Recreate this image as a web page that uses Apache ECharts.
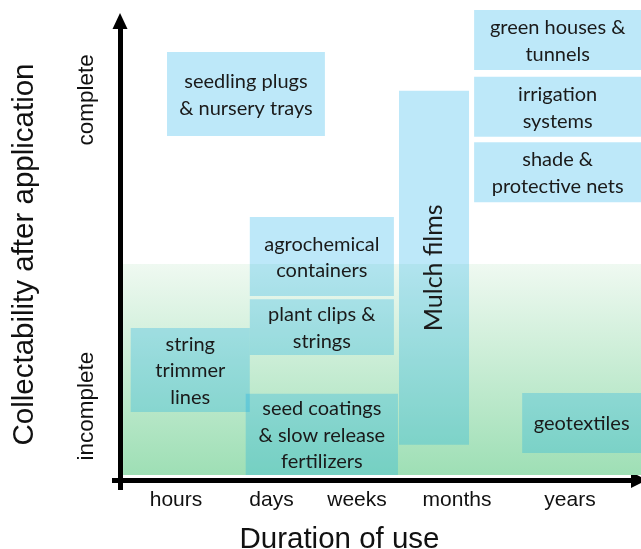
<!DOCTYPE html>
<html>
<head>
<meta charset="utf-8">
<script src="https://cdn.jsdelivr.net/npm/echarts@6/dist/echarts.min.js"></script>
<style>
html,body{margin:0;padding:0;background:#fff;}
#chart{width:641px;height:549px;}
</style>
</head>
<body>
<div id="chart"></div>
<script>
// ---- data ----
const boxLabels = [
  'seedling plugs\n& nursery trays',
  'agrochemical\ncontainers',
  'plant clips &\nstrings',
  'string\ntrimmer\nlines',
  'seed coatings\n& slow release\nfertilizers',
  'Mulch films',
  'green houses &\ntunnels',
  'irrigation\nsystems',
  'shade &\nprotective nets',
  'geotextiles'
];
const boxDurationStart = [9.2, 25.4, 25.4, 2.1, 24.6, 54.6, 69.3, 69.3, 69.3, 78.7];
const boxDurationEnd   = [40.1, 53.6, 53.6, 25.4, 54.4, 68.3, 102, 102, 102, 102];
const boxCollectLow    = [76.3, 40.8, 27.7, 15.1, 1.1, 7.8, 90.9, 76.1, 61.6, 6.0];
const boxCollectHigh   = [94.9, 58.3, 40.1, 33.7, 19.1, 86.3, 104.2, 89.4, 74.9, 19.3];

const incompleteZone = [0.6, 102, 1.1, 47.9]; // durationStart, durationEnd, collectLow, collectHigh

const xTickLabels = ['hours', 'days', 'weeks', 'months', 'years'];
const xTickValues = [10.96, 29.65, 46.38, 65.95, 88.06];
const yTickLabels = ['incomplete', 'complete'];
const yTickValues = [16.4, 84.3];

const xAxisTitle = 'Duration of use';
const yAxisTitle = 'Collectability after application';
const verticalLabels = ['Mulch films'];

// ---- chart ----
const chart = echarts.init(document.getElementById('chart'), null, {renderer: 'canvas'});

const boxData = boxLabels.map((name, i) => [boxDurationStart[i], boxDurationEnd[i], boxCollectLow[i], boxCollectHigh[i], name]);

function renderZone(params, api) {
  const p0 = api.coord([api.value(0), api.value(3)]);
  const p1 = api.coord([api.value(1), api.value(2)]);
  return {
    type: 'rect',
    shape: {x: p0[0], y: p0[1], width: p1[0] - p0[0], height: p1[1] - p0[1]},
    style: {
      fill: new echarts.graphic.LinearGradient(0, 0, 0, 1, [
        {offset: 0, color: '#eff9f1'},
        {offset: 1, color: '#9edfb5'}
      ])
    }
  };
}

function renderBox(params, api) {
  const i = params.dataIndex;
  const p0 = api.coord([api.value(0), api.value(3)]);
  const p1 = api.coord([api.value(1), api.value(2)]);
  const name = boxLabels[i];
  const cx = (p0[0] + p1[0]) / 2;
  const cy = (p0[1] + p1[1]) / 2;
  const vertical = verticalLabels.indexOf(name) >= 0;
  return {
    type: 'group',
    children: [
      {
        type: 'rect',
        shape: {x: p0[0], y: p0[1], width: p1[0] - p0[0], height: p1[1] - p0[1]},
        style: {fill: 'rgba(0,168,232,0.26)'}
      },
      {
        type: 'text',
        x: cx, y: vertical ? cy : cy + 1,
        rotation: vertical ? Math.PI / 2 : 0,
        style: {
          text: name,
          x: 0, y: 0,
          align: 'center',
          verticalAlign: 'middle',
          fontFamily: 'Lato',
          fontSize: vertical ? 25 : 20,
          lineHeight: 26.5,
          fill: '#1a1a1a'
        }
      }
    ]
  };
}

const option = {
  animation: false,
  grid: {left: 120, right: 10, top: 29, bottom: 69, containLabel: false, outerBoundsMode: 'none'},
  xAxis: {
    type: 'value', min: 0, max: 100,
    splitLine: {show: false},
    axisLine: {
      show: true, onZero: false,
      lineStyle: {color: '#000', width: 5},
      symbol: ['none', 'triangle'], symbolSize: [16, 16], symbolOffset: [0, 8]
    },
    axisTick: {show: true, customValues: [0], length: 10, lineStyle: {color: '#000', width: 5}},
    axisLabel: {
      customValues: xTickValues,
      formatter: v => { const k = xTickValues.indexOf(v); return k >= 0 ? xTickLabels[k] : ''; },
      fontFamily: 'Liberation Sans', fontSize: 21, color: '#111', margin: 10
    },
    name: xAxisTitle,
    nameLocation: 'middle',
    nameGap: 45,
    nameTextStyle: {fontFamily: 'Liberation Sans', fontSize: 29.5, color: '#111', padding: [0, 72, 0, 0]}
  },
  yAxis: {
    type: 'value', min: 0, max: 100,
    splitLine: {show: false},
    axisLine: {
      show: true, onZero: false,
      lineStyle: {color: '#000', width: 5},
      symbol: ['none', 'triangle'], symbolSize: [15, 16], symbolOffset: [0, 8]
    },
    axisTick: {show: true, customValues: [0], length: 8, lineStyle: {color: '#000', width: 5}},
    axisLabel: {
      customValues: yTickValues,
      formatter: v => { const k = yTickValues.indexOf(v); return k >= 0 ? yTickLabels[k] : ''; },
      rotate: 90,
      fontFamily: 'Liberation Sans', fontSize: 22.5, color: '#111', margin: 22
    },
    name: yAxisTitle,
    nameLocation: 'middle',
    nameRotate: 90,
    nameGap: 80,
    nameTextStyle: {fontFamily: 'Liberation Sans', fontSize: 29.5, color: '#111'}
  },
  series: [
    {
      type: 'custom',
      renderItem: renderZone,
      data: [incompleteZone],
      encode: {x: [0, 1], y: [2, 3]},
      silent: true,
      z: 1
    },
    {
      type: 'custom',
      renderItem: renderBox,
      data: boxData,
      encode: {x: [0, 1], y: [2, 3]},
      silent: true,
      z: 2
    }
  ]
};
chart.setOption(option);
</script>
</body>
</html>
